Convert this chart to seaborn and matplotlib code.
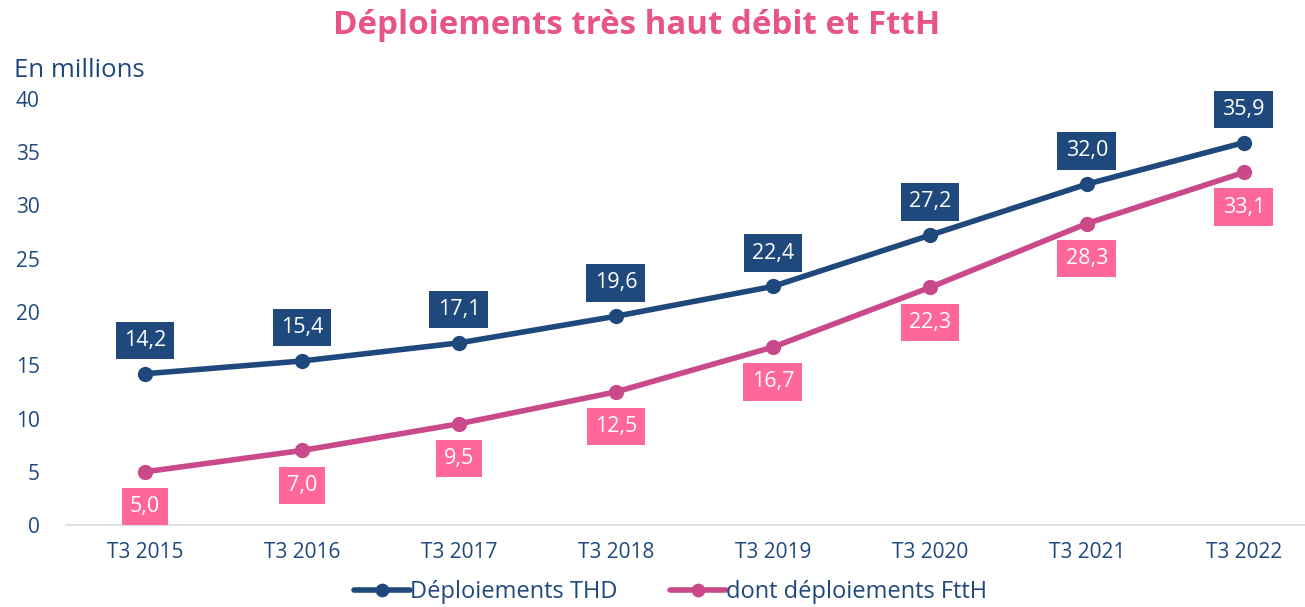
import matplotlib
matplotlib.use("Agg")
import matplotlib.pyplot as plt
import seaborn as sns
import pandas as pd

periods = ["T3 2015", "T3 2016", "T3 2017", "T3 2018", "T3 2019", "T3 2020", "T3 2021", "T3 2022"]
thd = [14.2, 15.4, 17.1, 19.6, 22.4, 27.2, 32.0, 35.9]
ftth = [5.0, 7.0, 9.5, 12.5, 16.7, 22.3, 28.3, 33.1]
y_ticks = [0, 5, 10, 15, 20, 25, 30, 35, 40]

BLUE = "#1F497D"
PINK_LINE = "#C9498A"
PINK_BOX = "#FF6699"
TITLE_PINK = "#E8538A"

sns.set_style("white")
plt.rcParams["font.family"] = ["Open Sans", "DejaVu Sans"]

df = pd.DataFrame({
    "value": thd + ftth,
    "serie": ["Déploiements THD"] * len(periods) + ["dont déploiements FttH"] * len(periods),
})
df["x"] = list(range(len(periods))) * 2

fig = plt.figure(figsize=(13.05, 6.07), dpi=100)
ax = fig.add_axes([0.0506, 0.135, 0.9494, 0.702])

sns.lineplot(data=df, x="x", y="value", hue="serie", palette=[BLUE, PINK_LINE],
             marker="o", markersize=11, markeredgewidth=0, linewidth=4, ax=ax,
             clip_on=False)

for i, v in enumerate(thd):
    ax.annotate(f"{v:.1f}".replace(".", ","), (i, v), xytext=(0, 24), textcoords="offset points",
                ha="center", va="center", fontsize=15.5, color="white", annotation_clip=False,
                bbox=dict(boxstyle="square,pad=0.38", fc=BLUE, ec="none"))
for i, v in enumerate(ftth):
    ax.annotate(f"{v:.1f}".replace(".", ","), (i, v), xytext=(0, -25), textcoords="offset points",
                ha="center", va="center", fontsize=15.5, color="white", annotation_clip=False,
                bbox=dict(boxstyle="square,pad=0.38", fc=PINK_BOX, ec="none"))

ax.set_xlim(-0.503, 7.39)
ax.set_ylim(0, 40)
ax.set_xticks(range(len(periods)))
ax.set_xticklabels(periods)
ax.set_yticks(y_ticks)
ax.tick_params(axis="both", labelsize=15, labelcolor=BLUE, length=0)
ax.tick_params(axis="x", pad=12)
ax.tick_params(axis="y", pad=19)
ax.set_xlabel("")
ax.set_ylabel("")
for s in ["top", "right", "left"]:
    ax.spines[s].set_visible(False)
ax.spines["bottom"].set_color("#D9D9D9")
ax.spines["bottom"].set_linewidth(1.2)

fig.text(0.488, 0.958, "Déploiements très haut débit et FttH", ha="center", va="center",
         fontsize=23.8, fontweight="bold", color=TITLE_PINK)
fig.text(0.011, 0.884, "En millions", ha="left", va="center", fontsize=18.5, color=BLUE)

handles, labels = ax.get_legend_handles_labels()
ax.legend(handles, labels, loc="center", bbox_to_anchor=(0.488, -0.157), ncol=2, frameon=False,
          fontsize=17, labelcolor=BLUE, handlelength=2.4, handletextpad=0.0, columnspacing=2.2,
          markerscale=0.9)

fig.savefig("out.png", dpi=100)
